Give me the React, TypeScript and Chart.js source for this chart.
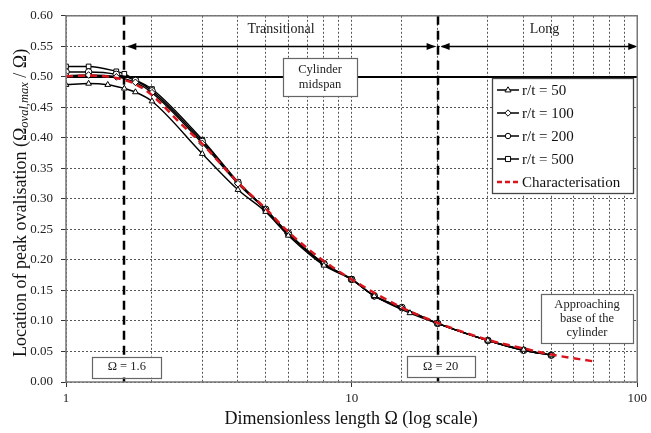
import { useEffect, useRef } from 'react';
import { Chart, registerables } from 'chart.js';

Chart.register(...registerables);

const FONT = "'Liberation Serif', 'Times New Roman', serif";

// Dimensionless length Ω for each series
const omegaRt50 = [1, 1.2, 1.4, 1.6, 1.75, 2, 3, 4, 5, 6, 8, 10, 12, 16, 20, 30, 40, 50];
const locRt50 = [0.487, 0.489, 0.487, 0.481, 0.475, 0.460, 0.374, 0.315, 0.279, 0.240, 0.191, 0.168, 0.141, 0.113, 0.096, 0.068, 0.053, 0.044];

const omegaRt100 = [1, 1.2, 1.5, 1.75, 2, 3, 4, 5, 6, 8, 10, 12, 15, 20, 30, 40, 50];
const locRt100 = [0.502, 0.503, 0.500, 0.491, 0.474, 0.391, 0.325, 0.282, 0.243, 0.194, 0.168, 0.141, 0.121, 0.096, 0.068, 0.052, 0.044];

const omegaRt200 = [1, 1.2, 1.5, 1.75, 2, 3, 4, 5, 6, 8, 10, 12, 15, 20, 30, 40, 50];
const locRt200 = [0.508, 0.508, 0.504, 0.494, 0.477, 0.394, 0.327, 0.283, 0.244, 0.194, 0.168, 0.141, 0.122, 0.096, 0.068, 0.052, 0.044];

const omegaRt500 = [1, 1.2, 1.5, 1.6, 1.75, 2, 3, 4, 5, 6, 8, 10, 12, 15, 20, 30, 40, 50];
const locRt500 = [0.517, 0.517, 0.509, 0.505, 0.495, 0.480, 0.397, 0.328, 0.283, 0.243, 0.193, 0.169, 0.141, 0.122, 0.096, 0.068, 0.052, 0.044];

const omegaChar = [1, 1.2, 1.5, 1.75, 2, 2.5, 3, 4, 5, 6, 8, 10, 15, 20, 30, 40, 50, 70];
const locChar = [0.501, 0.502, 0.498, 0.488, 0.470, 0.425, 0.390, 0.327, 0.284, 0.246, 0.198, 0.168, 0.122, 0.097, 0.069, 0.055, 0.045, 0.034];

const seriesLabels = ['r/t = 50', 'r/t = 100', 'r/t = 200', 'r/t = 500', 'Characterisation'];
const seriesMarkers = ['triangle', 'rectRot', 'circle', 'rect', false];

// Annotation values
const midspanLevel = 0.5;
const rangeArrowLevel = 0.55;
const boundaryShort = 1.6;
const boundaryLong = 20;
const xMin = 1;
const xMax = 100;
const xLabelValues = [1, 10, 100];

const xTitle = 'Dimensionless length \u03A9 (log scale)';
const yTitleMain = 'Location of peak ovalisation (\u03A9';
const yTitleSub = 'oval,max';
const yTitleEnd = ' / \u03A9)';

const pts = (xs: number[], ys: number[]) => xs.map((x, i) => ({ x, y: ys[i] }));

function drawMarker(ctx: CanvasRenderingContext2D, style: any, x: number, y: number, r: number) {
  if (!style) return;
  ctx.save();
  ctx.fillStyle = '#fff';
  ctx.strokeStyle = '#000';
  ctx.lineWidth = 1;
  ctx.beginPath();
  if (style === 'triangle') {
    ctx.moveTo(x, y - r);
    ctx.lineTo(x + r * 0.95, y + r * 0.6);
    ctx.lineTo(x - r * 0.95, y + r * 0.6);
    ctx.closePath();
  } else if (style === 'rectRot') {
    ctx.moveTo(x, y - r);
    ctx.lineTo(x + r, y);
    ctx.lineTo(x, y + r);
    ctx.lineTo(x - r, y);
    ctx.closePath();
  } else if (style === 'circle') {
    ctx.arc(x, y, r * 0.85, 0, Math.PI * 2);
  } else if (style === 'rect') {
    ctx.rect(x - r * 0.8, y - r * 0.8, r * 1.6, r * 1.6);
  }
  ctx.fill();
  ctx.stroke();
  ctx.restore();
}

function box(ctx: CanvasRenderingContext2D, cx: number, cy: number, w: number, h: number, lines: string[], size: number, lh: number) {
  ctx.save();
  ctx.fillStyle = '#fff';
  ctx.strokeStyle = '#666';
  ctx.lineWidth = 1.2;
  ctx.fillRect(cx - w / 2, cy - h / 2, w, h);
  ctx.strokeRect(Math.round(cx - w / 2) + 0.5, Math.round(cy - h / 2) + 0.5, w, h);
  ctx.fillStyle = '#222';
  ctx.font = `${size}px ${FONT}`;
  ctx.textAlign = 'center';
  ctx.textBaseline = 'middle';
  const start = cy - ((lines.length - 1) * lh) / 2;
  lines.forEach((t, i) => ctx.fillText(t, cx, start + i * lh));
  ctx.restore();
}

function arrowHead(ctx: CanvasRenderingContext2D, tipX: number, y: number, dir: number) {
  ctx.beginPath();
  ctx.moveTo(tipX, y);
  ctx.lineTo(tipX - dir * 9, y - 3.5);
  ctx.lineTo(tipX - dir * 9, y + 3.5);
  ctx.closePath();
  ctx.fill();
}

const annotations = {
  id: 'annotations',
  beforeDatasetsDraw(chart: any) {
    const { ctx, chartArea: a, scales } = chart;
    const x = scales.x;
    const y = scales.y;
    ctx.save();
    // midspan line
    ctx.strokeStyle = '#000';
    ctx.lineWidth = 2;
    const ym = Math.round(y.getPixelForValue(midspanLevel));
    ctx.beginPath();
    ctx.moveTo(a.left, ym);
    ctx.lineTo(a.right, ym);
    ctx.stroke();
    // range arrows
    const ya = Math.round(y.getPixelForValue(rangeArrowLevel)) + 0.5;
    const x1 = x.getPixelForValue(boundaryShort);
    const x2 = x.getPixelForValue(boundaryLong);
    ctx.lineWidth = 1.3;
    ctx.fillStyle = '#000';
    ctx.beginPath();
    ctx.moveTo(x1 + 4, ya);
    ctx.lineTo(x2 - 3, ya);
    ctx.moveTo(x2 + 4, ya);
    ctx.lineTo(a.right - 2, ya);
    ctx.stroke();
    arrowHead(ctx, x1 + 3, ya, -1);
    arrowHead(ctx, x2 - 2, ya, 1);
    arrowHead(ctx, x2 + 3, ya, -1);
    arrowHead(ctx, a.right, ya, 1);
    // boundary dashed lines
    ctx.lineWidth = 2.5;
    ctx.setLineDash([9, 6]);
    [x1, x2].forEach((px) => {
      ctx.beginPath();
      ctx.moveTo(Math.round(px), a.top);
      ctx.lineTo(Math.round(px), a.bottom);
      ctx.stroke();
    });
    ctx.setLineDash([]);
    // range labels
    ctx.fillStyle = '#222';
    ctx.font = `14px ${FONT}`;
    ctx.textAlign = 'center';
    ctx.textBaseline = 'middle';
    const yl = y.getPixelForValue(0.58) + 1;
    ctx.fillText('Transitional', (x1 + x2) / 2, yl);
    ctx.fillText('Long', (x2 + a.right) / 2 + 7, yl);
    ctx.restore();
  },
  afterDatasetsDraw(chart: any) {
    const { ctx, chartArea: a, scales } = chart;
    const x = scales.x;
    const y = scales.y;
    const x1 = x.getPixelForValue(boundaryShort);
    const x2 = x.getPixelForValue(boundaryLong);
    box(ctx, 320, y.getPixelForValue(midspanLevel), 74, 38, ['Cylinder', 'midspan'], 12.5, 15);
    box(ctx, x1 + 2.5, a.bottom - 15, 69, 21, ['\u03A9 = 1.6'], 12.5, 14);
    box(ctx, x2 + 3, a.bottom - 15.5, 68, 21, ['\u03A9 = 20'], 12.5, 14);
    box(ctx, 587, 318.5, 92, 49, ['Approaching', 'base of the', 'cylinder'], 12.5, 14);

    // legend
    ctx.save();
    const lx = 492, ly = 78, lw = 141, lh = 115;
    ctx.fillStyle = '#fff';
    ctx.fillRect(lx, ly, lw, lh);
    ctx.strokeStyle = '#444';
    ctx.lineWidth = 1.3;
    ctx.strokeRect(lx + 0.5, ly + 0.5, lw, lh);
    ctx.font = `15px ${FONT}`;
    ctx.textAlign = 'left';
    ctx.textBaseline = 'middle';
    seriesLabels.forEach((lab, i) => {
      const yy = ly + 12 + i * 23;
      ctx.save();
      if (i === 4) {
        ctx.strokeStyle = '#d8141c';
        ctx.lineWidth = 2.5;
        ctx.setLineDash([5, 3]);
      } else {
        ctx.strokeStyle = '#000';
        ctx.lineWidth = 1.5;
      }
      ctx.beginPath();
      ctx.moveTo(lx + 5, yy);
      ctx.lineTo(lx + 27, yy);
      ctx.stroke();
      ctx.restore();
      drawMarker(ctx, seriesMarkers[i], lx + 16, yy, 3.2);
      ctx.fillStyle = '#111';
      ctx.fillText(lab, lx + 30, yy + 1);
    });
    ctx.restore();
  },
  afterDraw(chart: any) {
    const { ctx, chartArea: a } = chart;
    ctx.save();
    // frame
    ctx.strokeStyle = '#777';
    ctx.lineWidth = 1.5;
    ctx.strokeRect(a.left, a.top, a.right - a.left, a.bottom - a.top);
    // x title
    ctx.fillStyle = '#111';
    ctx.font = `18px ${FONT}`;
    ctx.textAlign = 'center';
    ctx.textBaseline = 'middle';
    ctx.fillText(xTitle, (a.left + a.right) / 2 - 0.5, 419);
    // y title with subscript
    ctx.translate(21, (a.top + a.bottom) / 2 + 4);
    ctx.rotate(-Math.PI / 2);
    ctx.textAlign = 'left';
    ctx.textBaseline = 'middle';
    const mainFont = `18px ${FONT}`;
    const subFont = `italic 12.5px ${FONT}`;
    ctx.font = mainFont;
    const w1 = ctx.measureText(yTitleMain).width;
    const w3 = ctx.measureText(yTitleEnd).width;
    ctx.font = subFont;
    const w2 = ctx.measureText(yTitleSub).width;
    let sx = -(w1 + w2 + w3) / 2;
    ctx.font = mainFont;
    ctx.fillText(yTitleMain, sx, 0);
    sx += w1;
    ctx.font = subFont;
    ctx.fillText(yTitleSub, sx, 4);
    sx += w2;
    ctx.font = mainFont;
    ctx.fillText(yTitleEnd, sx, 0);
    ctx.restore();
  },
};

export default function App() {
  const ref = useRef<HTMLCanvasElement>(null);
  useEffect(() => {
    document.body.style.margin = '0';
    const canvas = ref.current;
    if (!canvas) return;
    const mk = (label: string, xs: number[], ys: number[], marker: any, order: number) => ({
      label,
      data: pts(xs, ys),
      borderColor: '#000',
      borderWidth: 1.4,
      pointStyle: marker,
      pointRadius: 3.3,
      pointBorderWidth: 1,
      pointBackgroundColor: '#fff',
      pointBorderColor: '#000',
      cubicInterpolationMode: 'monotone',
      fill: false,
      order,
    });
    const chart = new Chart(canvas, {
      type: 'line',
      data: {
        datasets: [
          {
            label: seriesLabels[4],
            data: pts(omegaChar, locChar),
            borderColor: '#d8141c',
            borderWidth: 2.5,
            borderDash: [7, 5],
            pointRadius: 0,
            cubicInterpolationMode: 'monotone',
            fill: false,
            order: 0,
          },
          mk(seriesLabels[0], omegaRt50, locRt50, seriesMarkers[0], 1),
          mk(seriesLabels[1], omegaRt100, locRt100, seriesMarkers[1], 1),
          mk(seriesLabels[2], omegaRt200, locRt200, seriesMarkers[2], 1),
          mk(seriesLabels[3], omegaRt500, locRt500, seriesMarkers[3], 1),
        ] as any,
      },
      options: {
        animation: false,
        responsive: true,
        maintainAspectRatio: false,
        layout: { padding: { left: 0, right: 13, top: 13, bottom: 0 } },
        plugins: { legend: { display: false }, tooltip: { enabled: false } },
        scales: {
          x: {
            type: 'logarithmic',
            min: xMin,
            max: xMax,
            afterFit: (s: any) => {
              s.height = 51;
            },
            ticks: {
              autoSkip: false,
              maxRotation: 0,
              minRotation: 0,
              padding: 4,
              color: '#222',
              font: { family: FONT, size: 13 },
              callback: (v: any) => (xLabelValues.includes(Number(v)) ? String(v) : ''),
            },
            grid: {
              color: '#555',
              lineWidth: 1,
              tickLength: 5,
              tickColor: (c: any) => (c.tick && xLabelValues.includes(c.tick.value) ? '#333' : 'rgba(0,0,0,0)'),
              tickBorderDash: [],
            },
            border: { display: false, dash: [2, 2] },
          },
          y: {
            type: 'linear',
            min: 0,
            max: 0.6,
            afterFit: (s: any) => {
              s.width = 66;
            },
            ticks: {
              stepSize: 0.05,
              padding: 8,
              color: '#222',
              font: { family: FONT, size: 13 },
              callback: (v: any) => Number(v).toFixed(2),
            },
            grid: {
              color: '#555',
              lineWidth: 1,
              tickLength: 5,
              tickColor: '#333',
              tickBorderDash: [],
            },
            border: { display: false, dash: [2, 2] },
          },
        },
      },
      plugins: [annotations],
    });
    return () => chart.destroy();
  }, []);
  return (
    <div style={{ position: 'relative', width: 651, height: 433 }}>
      <canvas ref={ref} />
    </div>
  );
}
